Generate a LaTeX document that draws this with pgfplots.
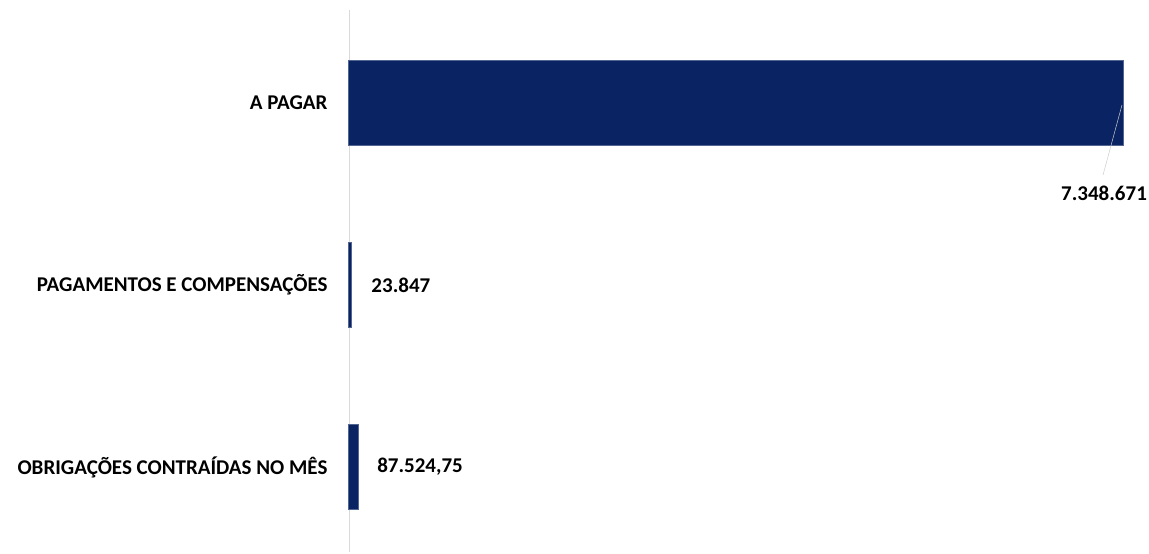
\documentclass[border=0pt]{standalone}
\usepackage{pgfplots}
\pgfplotsset{compat=1.18}
\usepackage{fontspec}
\setmainfont{Carlito}
\definecolor{navy}{HTML}{0A2362}
\definecolor{axgray}{HTML}{D9D9D9}
\newcommand{\lab}{\fontsize{21}{24}\selectfont\bfseries}
\begin{document}
\begin{tikzpicture}[x=1pt,y=1pt]
\useasboundingbox (0,0) rectangle (1149,554);
\begin{axis}[
  at={(349pt,2pt)}, anchor=south west,
  scale only axis, width=781pt, height=542pt,
  xmin=0, xmax=7415132,
  ymin=-0.467, ymax=2.511,
  xbar, bar width=0.467,
  hide x axis,
  axis y line*=left,
  y axis line style={axgray, line width=0.8pt},
  ytick={0,1,2}, yticklabels={OBRIGAÇÕES CONTRAÍDAS NO MÊS, PAGAMENTOS E COMPENSAÇÕES, A PAGAR},
  major tick length=0pt,
  yticklabel style={font=\lab, text=black, xshift=-18pt},
  clip=false,
]
\addplot[fill=navy, draw=navy!70!white, line width=1pt] coordinates {(87524.75,0) (23847,1) (7348671,2)};
\draw[gray!40, line width=0.5pt] (axis cs:7339000,1.989) -- (axis cs:7158700,1.604);
\node[font=\lab] at (axis cs:7168600,1.505) {7.348.671};
\node[font=\lab, anchor=west] at (axis cs:180000,1) {23.847};
\node[font=\lab, anchor=west] at (axis cs:235000,0) {87.524,75};
\end{axis}
\end{tikzpicture}
\end{document}
